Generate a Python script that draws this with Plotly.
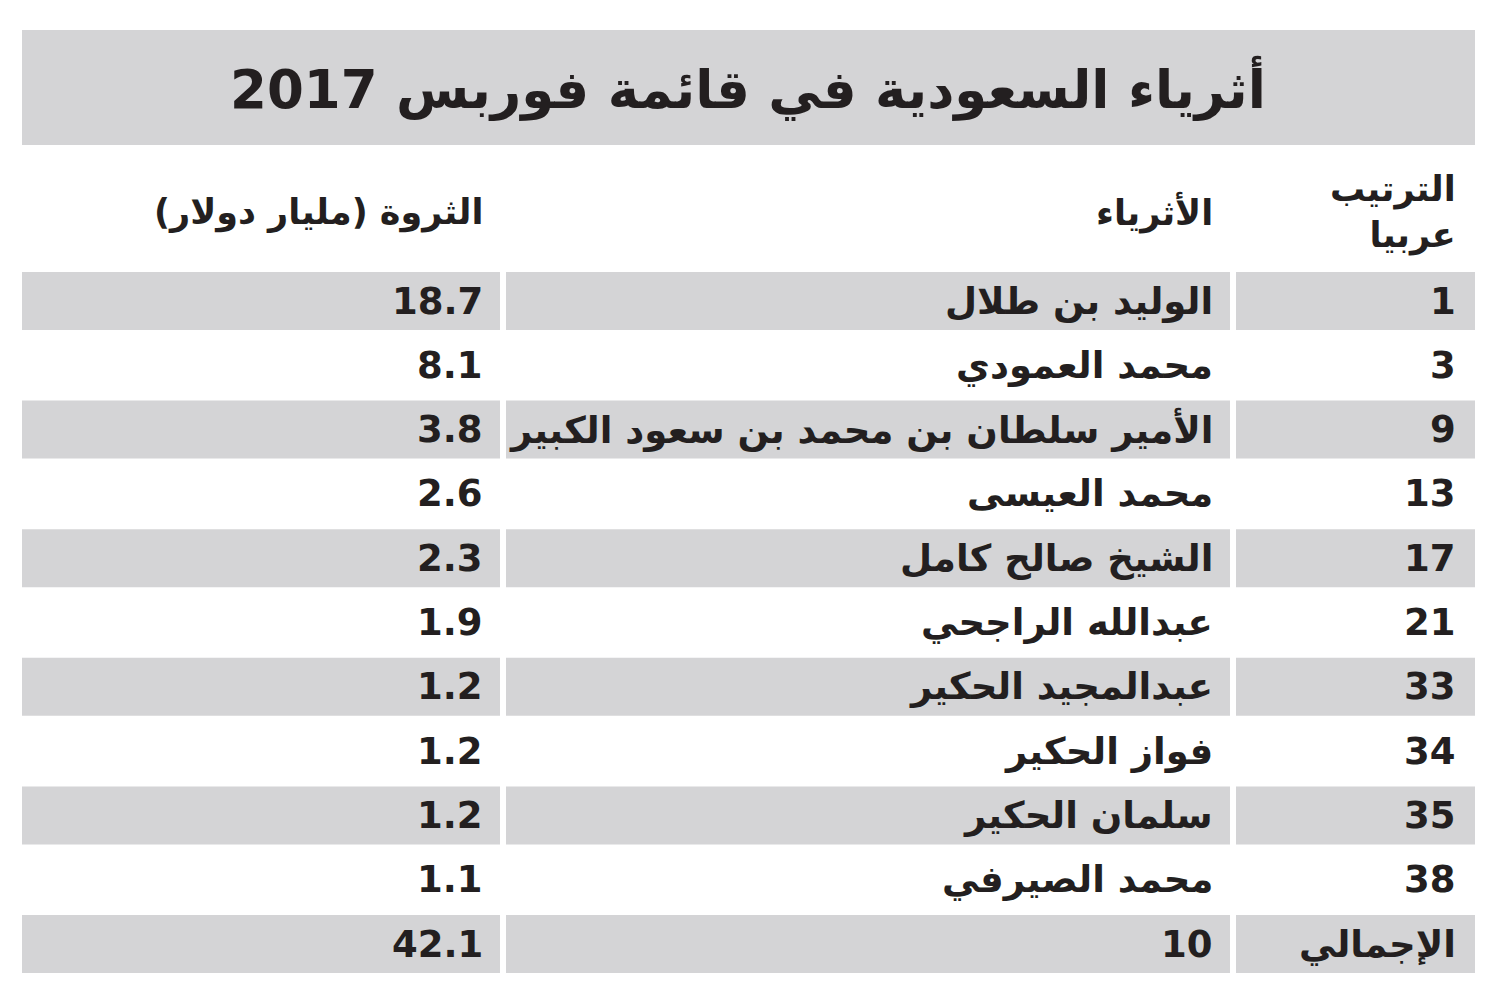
import plotly.graph_objects as go

title = "أثرياء السعودية في قائمة فوربس 2017"
headers = ["الترتيب<br>عربيا", "الأثرياء", "الثروة (مليار دولار)"]
ranks = ["1", "3", "9", "13", "17", "21", "33", "34", "35", "38", "الإجمالي"]
names = ["الوليد بن طلال", "محمد العمودي", "الأمير سلطان بن محمد بن سعود الكبير",
         "محمد العيسى", "الشيخ صالح كامل", "عبدالله الراجحي", "عبدالمجيد الحكير",
         "فواز الحكير", "سلمان الحكير", "محمد الصيرفي", "10"]
wealth = ["18.7", "8.1", "3.8", "2.6", "2.3", "1.9", "1.2", "1.2", "1.2", "1.1", "42.1"]

GRAY = "#d4d4d6"
FONT = "DejaVu Sans"
cols = [(1236, 1475, 1458), (506, 1230, 1215), (22, 500, 485)]

fig = go.Figure()
fig.add_trace(go.Scatter(x=[0, 1500], y=[0, 1000], mode="markers", marker=dict(opacity=0), hoverinfo="skip"))
shapes, ann = [], []
shapes.append(dict(type="rect", xref="x", yref="y", x0=22, x1=1475, y0=30, y1=145, fillcolor=GRAY, line_width=0, layer="below"))
ann.append(dict(x=748, y=88, xref="x", yref="y", text="<b>" + title + "</b>", showarrow=False,
                font=dict(family=FONT, size=53, color="#231f20")))
for (x0, x1, xt), h in zip(cols, headers):
    ann.append(dict(x=xt, y=212, xref="x", yref="y", text="<b>" + h + "</b>", showarrow=False,
                    xanchor="right", align="right", font=dict(family=FONT, size=35, color="#231f20")))
for i in range(len(ranks)):
    yc = 301 + i * 64.3
    gray = (i % 2 == 0)
    for (x0, x1, xt), txt in zip(cols, [ranks[i], names[i], wealth[i]]):
        if gray:
            shapes.append(dict(type="rect", xref="x", yref="y", x0=x0, x1=x1, y0=yc - 29, y1=yc + 29,
                               fillcolor=GRAY, line_width=0, layer="below"))
        ann.append(dict(x=xt, y=yc, xref="x", yref="y", text="<b>" + txt + "</b>", showarrow=False,
                        xanchor="right", font=dict(family=FONT, size=37, color="#231f20")))
fig.update_layout(width=1500, height=1000, margin=dict(l=0, r=0, t=0, b=0),
                  paper_bgcolor="white", plot_bgcolor="white", shapes=shapes, annotations=ann,
                  showlegend=False,
                  xaxis=dict(range=[8, 1508], visible=False, fixedrange=True),
                  yaxis=dict(range=[1008, 8], visible=False, fixedrange=True))
fig.write_html("out.html")
